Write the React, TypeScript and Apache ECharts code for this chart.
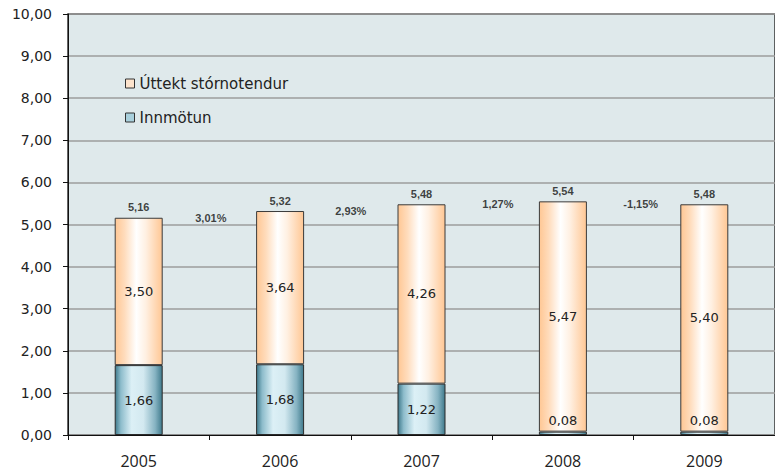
import React, { useEffect, useRef } from "react";
import * as echarts from "echarts";

const categories = ["2005", "2006", "2007", "2008", "2009"];
const innmotun = [1.66, 1.68, 1.22, 0.08, 0.08];
const uttekt = [3.5, 3.64, 4.26, 5.47, 5.4];
const totals = [5.16, 5.32, 5.48, 5.54, 5.48];
const growthLabels = ["3,01%", "2,93%", "1,27%", "-1,15%"];
const growthLevels = [5.16, 5.32, 5.48, 5.48];
const growthPositions = [1.01, 2.0, 3.04, 4.05];

const fmt = (v: number) => v.toFixed(2).replace(".", ",");

const blueGrad = new echarts.graphic.LinearGradient(0, 0, 1, 0, [
  { offset: 0, color: "#3f7a8c" },
  { offset: 0.12, color: "#8dbccb" },
  { offset: 0.35, color: "#dcf0f6" },
  { offset: 0.6, color: "#d3e9f0" },
  { offset: 0.85, color: "#86b3c2" },
  { offset: 1, color: "#3f7a8c" },
]);
const orangeGrad = new echarts.graphic.LinearGradient(0, 0, 1, 0, [
  { offset: 0, color: "#ffc794" },
  { offset: 0.2, color: "#ffdcbc" },
  { offset: 0.45, color: "#ffffff" },
  { offset: 0.65, color: "#fff0e2" },
  { offset: 1, color: "#ffc794" },
]);

export default function App() {
  const ref = useRef<HTMLDivElement>(null);
  useEffect(() => {
    if (!ref.current) return;
    const chart = echarts.init(ref.current, null, { renderer: "svg" });
    const font = "DejaVu Sans";
    chart.setOption({
      animation: false,
      textStyle: { fontFamily: font, color: "#222" },
      grid: {
        left: 68,
        top: 14,
        width: 715,
        height: 421,
        show: true,
        backgroundColor: "#dfe9eb",
        borderColor: "#333",
        borderWidth: 1.5,
      },
      legend: {
        orient: "vertical",
        left: 120,
        top: 71,
        itemWidth: 9,
        itemHeight: 9,
        itemGap: 19,
        icon: "rect",
        textStyle: { fontFamily: font, fontSize: 15, color: "#222" },
        data: [
          {
            name: "Úttekt stórnotendur",
            itemStyle: { color: "#fde3cc", borderColor: "#333", borderWidth: 1 },
          },
          {
            name: "Innmötun",
            itemStyle: { color: "#a9d0dc", borderColor: "#333", borderWidth: 1 },
          },
        ],
      },
      xAxis: [
        {
          type: "category",
          data: categories,
          axisLine: { lineStyle: { color: "#111", width: 1 } },
          axisTick: { show: true, length: 5, lineStyle: { color: "#111" } },
          axisLabel: {
            fontFamily: "Open Sans",
            fontWeight: "normal",
            fontSize: 16,
            color: "#222",
            margin: 18,
          },
        },
        { type: "value", min: 0, max: 5, show: false },
      ],
      yAxis: {
        type: "value",
        min: 0,
        max: 10,
        interval: 1,
        axisLine: { show: true, lineStyle: { color: "#111", width: 1 } },
        axisTick: { show: true, length: 5, lineStyle: { color: "#111" } },
        axisLabel: {
          fontFamily: font,
          fontSize: 14,
          color: "#222",
          margin: 16,
          formatter: (v: number) => fmt(v),
        },
        splitLine: { show: true, lineStyle: { color: "#9c9c9c", width: 1.5 } },
      },
      series: [
        {
          name: "Innmötun",
          type: "bar",
          stack: "s",
          barWidth: 48,
          data: innmotun.map((v) => ({
            value: v,
            label: { position: v < 0.5 ? "top" : "inside" },
          })),
          itemStyle: { color: blueGrad, borderColor: "#2a2a2a", borderWidth: 1 },
          label: {
            show: true,
            fontFamily: font,
            fontSize: 13,
            color: "#222",
            distance: 5,
            formatter: (p: any) => fmt(p.value),
          },
        },
        {
          name: "Úttekt stórnotendur",
          type: "bar",
          stack: "s",
          barWidth: 48,
          data: uttekt,
          itemStyle: { color: orangeGrad, borderColor: "#3a3a3a", borderWidth: 1 },
          label: {
            show: true,
            position: "inside",
            fontFamily: font,
            fontSize: 13,
            color: "#222",
            formatter: (p: any) => fmt(p.value),
          },
        },
        {
          name: "totals",
          type: "scatter",
          data: totals,
          symbolSize: 0,
          label: {
            show: true,
            position: "top",
            distance: 5,
            fontFamily: "Liberation Sans",
            fontWeight: "bold",
            fontSize: 11,
            color: "#111",
            formatter: (p: any) => fmt(p.value),
          },
          z: 5,
        },
        {
          name: "growth",
          type: "scatter",
          xAxisIndex: 1,
          data: growthPositions.map((x, i) => [x, growthLevels[i]]),
          symbolSize: 0,
          label: {
            show: true,
            position: "inside",
            fontFamily: "Liberation Sans",
            fontWeight: "bold",
            fontSize: 11,
            color: "#111",
            formatter: (p: any) => growthLabels[p.dataIndex],
          },
          z: 5,
        },
      ],
    });
    return () => chart.dispose();
  }, []);
  return <div ref={ref} style={{ width: 775, height: 475, position: "absolute", left: 0, top: 0 }} />;
}
